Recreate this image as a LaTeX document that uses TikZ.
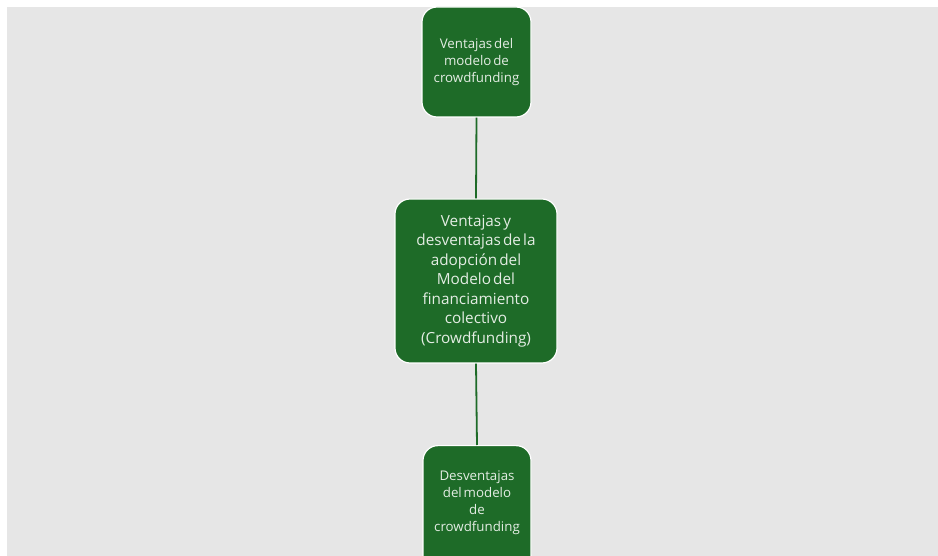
\documentclass[tikz,border=0pt]{standalone}
\usepackage{fontspec}
\setmainfont{Open Sans}[WordSpace=0.55]
\definecolor{bg}{HTML}{E6E6E6}
\definecolor{boxgreen}{HTML}{1E6B28}
\definecolor{boxtext}{HTML}{E4EDE4}
\begin{document}
\begin{tikzpicture}[x=1pt,y=-1pt,
  gbox/.style={draw=white, line width=1.2pt, fill=boxgreen, rounded corners=15pt,
    text=boxtext, align=center, inner sep=0pt},
  conn/.style={draw=boxgreen, line width=1.8pt}]
\useasboundingbox (0,0) rectangle (938,556);
\fill[white] (0,0) rectangle (938,556);
\fill[bg] (7,7) rectangle (938,556);
\begin{scope}
\clip (0,0) rectangle (938,556);
\node[gbox, minimum width=109pt, minimum height=110pt, font=\fontsize{13.3}{17}\selectfont] (top) at (476.5,62)
  {Ventajas del\\modelo de\\crowdfunding};
\node[gbox, minimum width=162pt, minimum height=164pt, font=\fontsize{15.3}{19.5}\selectfont] (mid) at (476,281)
  {Ventajas y\\desventajas de la\\adopción del\\Modelo del\\financiamiento\\colectivo\\(Crowdfunding)};
\node[gbox, minimum width=108pt, minimum height=124pt, font=\fontsize{13.3}{17}\selectfont, anchor=north] (bot) at (477,445)
  {\\[-17pt]Desventajas\\del modelo\\de\\crowdfunding};
\end{scope}
\draw[conn] (top.south) -- (mid.north);
\draw[conn] (mid.south) -- (bot.north);
\end{tikzpicture}
\end{document}
